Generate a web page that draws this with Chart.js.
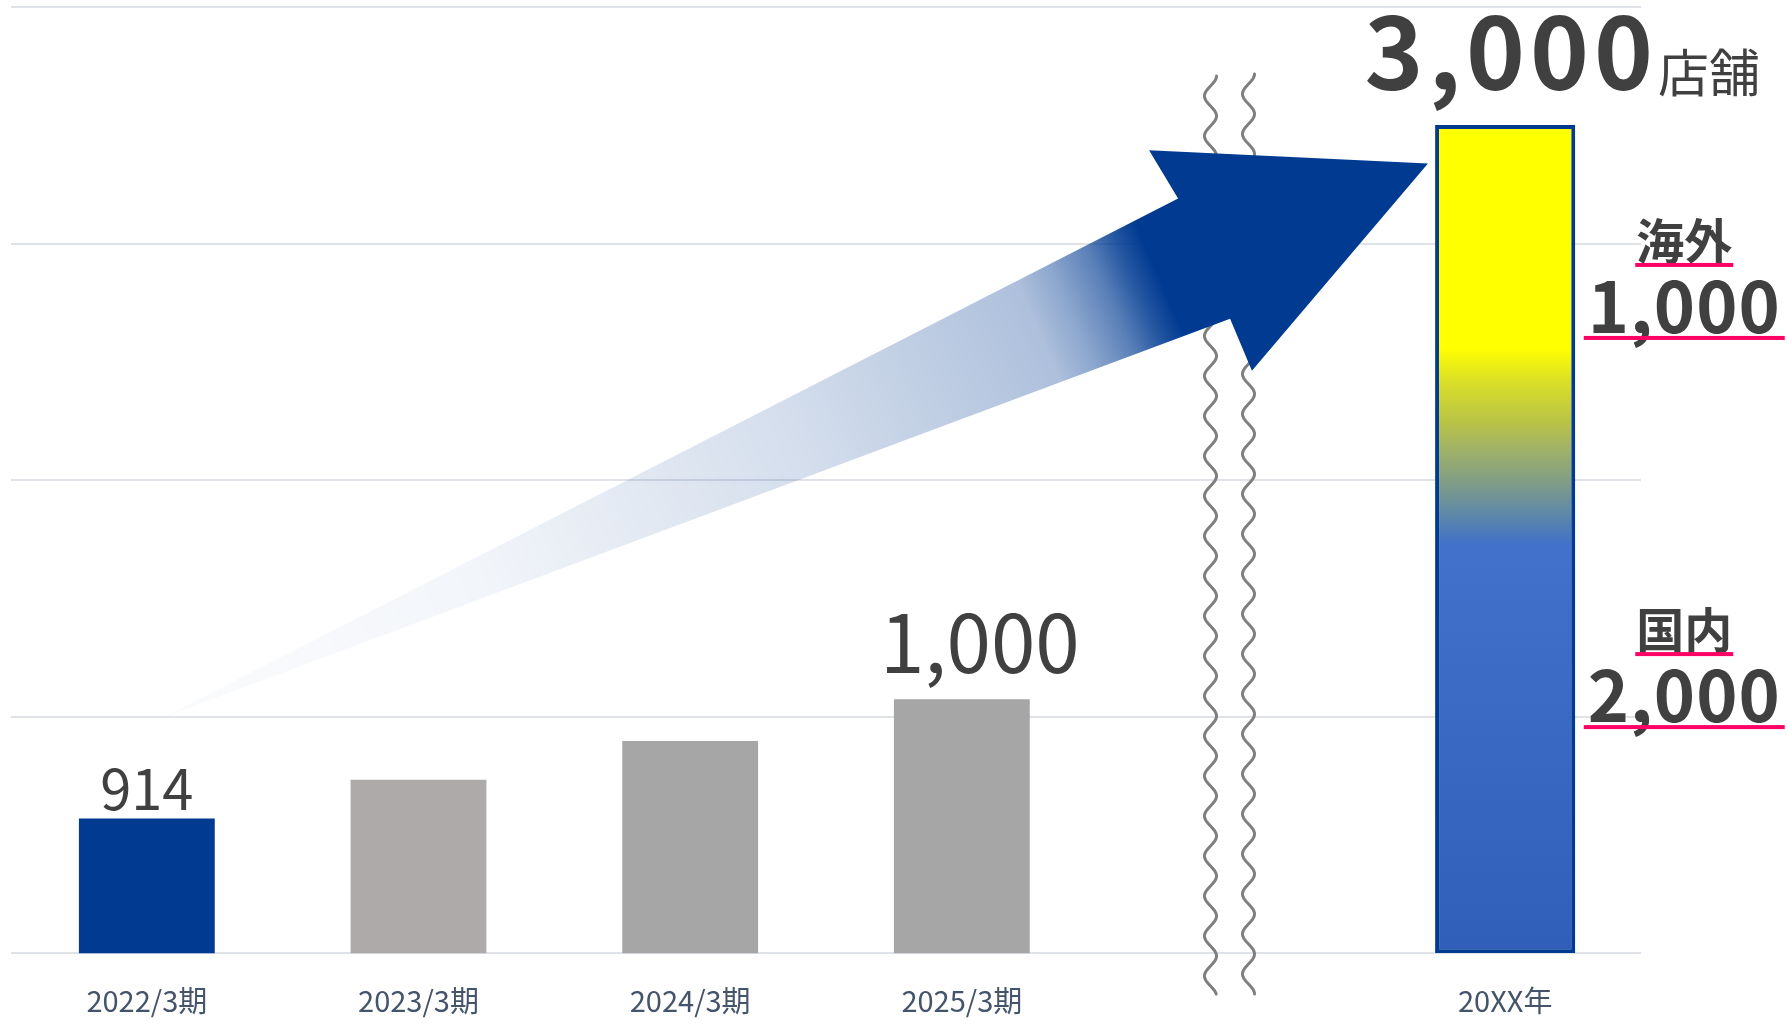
<!DOCTYPE html>
<html lang="ja">
<head>
<meta charset="utf-8">
<title>店舗数の推移と目標</title>
<script src="https://cdn.jsdelivr.net/npm/chart.js@4.4.1/dist/chart.umd.min.js"></script>
<style>
    html, body { margin: 0; padding: 0; background: #ffffff; overflow: hidden; }
    canvas { display: block; }
</style>
</head>
<body>
<canvas id="grafico-tiendas" width="1787" height="1024"></canvas>
<script>
// カテゴリ（5番目は省略線のための空き枠）
const periodos = ['2022/3期', '2023/3期', '2024/3期', '2025/3期', '', '20XX年'];

// 実績の店舗数
const tiendasReales = [914, 942, 970, 1000, null, null];
// 数値ラベルを出す実績バー
const mostrarEtiqueta = [true, false, false, true, false, false];

// 目標（国内＋海外）
const metaNacional = [null, null, null, null, null, 2000];
const metaExterior = [null, null, null, null, null, 1000];
const nombresSegmento = ['国内', '海外'];
const unidadMeta = '店舗';

// 目標の合計
const metaTotal = metaNacional.map((v, i) => v == null ? null : v + metaExterior[i]);

const FUENTE = '"Noto Sans CJK JP", "Noto Sans", sans-serif';
const AZUL = '#003a91';
const GRIS_TEXTO = '#404040';
const ROSA = '#ff0066';

const coloresBarras = [AZUL, '#aeaaaa', '#a6a6a6', '#a6a6a6', '#a6a6a6', '#a6a6a6'];

// 実績バーのラベル位置（サイズ・ずらし量）
const estiloEtiquetas = [
    { size: 56, dx: 0, dy: 9 },
    null, null,
    { size: 80, dx: 18, dy: 26 }
];

// 国内・海外ラベルの上下位置の補正
const ajusteSegmento = [-25, 0];

function formatear(n) {
    return n.toLocaleString('en-US');
}

// 目標バーのグラデーション（黄→青）
function degradadoMeta(context) {
    const chart = context.chart;
    if (!chart.chartArea) return '#ffff00';
    const y2 = chart.scales.y2;
    const i = context.dataIndex;
    if (metaTotal[i] == null) return '#ffff00';
    const top = y2.getPixelForValue(metaTotal[i]);
    const bottom = y2.getPixelForValue(0);
    const g = chart.ctx.createLinearGradient(0, top, 0, bottom);
    g.addColorStop(0, '#ffff00');
    g.addColorStop(0.27, '#ffff00');
    g.addColorStop(0.31, '#dadf28');
    g.addColorStop(0.36, '#b8c346');
    g.addColorStop(0.39, '#a2b266');
    g.addColorStop(0.43, '#819e84');
    g.addColorStop(0.47, '#5e88a8');
    g.addColorStop(0.506, '#4171ca');
    g.addColorStop(1, '#2f5fb8');
    return g;
}

// 省略の波線
function dibujarOndas(ctx, x, top, bottom) {
    ctx.save();
    ctx.strokeStyle = '#7f7f7f';
    ctx.lineWidth = 3;
    ctx.lineCap = 'round';
    ctx.beginPath();
    for (let y = top; y <= bottom; y += 1) {
        const px = x + 6 * Math.cos(2 * Math.PI * (y - top) / 40);
        if (y === top) ctx.moveTo(px, y); else ctx.lineTo(px, y);
    }
    ctx.stroke();
    ctx.restore();
}

// 成長を示す矢印（chartArea に対する比率）
const formaFlecha = [
    [0.0933, 0.751],
    [0.716, 0.2023],
    [0.6982, 0.1515],
    [0.8693, 0.1653],
    [0.7613, 0.3845],
    [0.7479, 0.3294]
];

function dibujarFlecha(ctx, area) {
    const pts = formaFlecha.map(([u, v]) => [area.left + u * area.width, area.top + v * area.height]);
    const cola = pts[0];
    const punta = pts[3];
    const g = ctx.createLinearGradient(cola[0], cola[1], punta[0], punta[1]);
    const paradas = [
        [0, 0.02], [0.12, 0.03], [0.25, 0.05], [0.5, 0.17], [0.634, 0.27], [0.693, 0.32],
        [0.72, 0.45], [0.75, 0.65], [0.77, 0.85], [0.789, 1], [1, 1]
    ];
    paradas.forEach(([t, a]) => g.addColorStop(t, `rgba(0, 58, 145, ${a})`));
    ctx.save();
    ctx.fillStyle = g;
    ctx.beginPath();
    pts.forEach((p, i) => i === 0 ? ctx.moveTo(p[0], p[1]) : ctx.lineTo(p[0], p[1]));
    ctx.closePath();
    ctx.fill();
    ctx.restore();
}

function texto(ctx, str, x, y, size, weight, align, espacio) {
    ctx.font = `${weight} ${size}px ${FUENTE}`;
    ctx.letterSpacing = (espacio || 0) + 'px';
    ctx.textAlign = align;
    ctx.textBaseline = 'alphabetic';
    ctx.fillText(str, x, y);
    const w = ctx.measureText(str).width;
    ctx.letterSpacing = '0px';
    return w;
}

function subrayar(ctx, cx, y, ancho) {
    ctx.save();
    ctx.fillStyle = ROSA;
    ctx.fillRect(cx - ancho / 2, y, ancho, 4);
    ctx.restore();
}

const pluginDecoracion = {
    id: 'decoracion',
    afterDatasetsDraw(chart) {
        const ctx = chart.ctx;
        const area = chart.chartArea;
        const xScale = chart.scales.x;
        const y2 = chart.scales.y2;

        // 波線（空き枠の位置）
        const xHueco = xScale.getPixelForValue(4) - 4;
        dibujarOndas(ctx, xHueco - 19, area.top + 69, area.bottom + 41);
        dibujarOndas(ctx, xHueco + 19, area.top + 67, area.bottom + 41);

        dibujarFlecha(ctx, area);

        ctx.save();
        ctx.fillStyle = GRIS_TEXTO;

        // 実績バーの数値
        const metaReal = chart.getDatasetMeta(0);
        tiendasReales.forEach((v, i) => {
            if (v == null || !mostrarEtiqueta[i]) return;
            const bar = metaReal.data[i];
            const est = estiloEtiquetas[i];
            texto(ctx, formatear(v), bar.x + est.dx, bar.y - est.dy, est.size, 'normal', 'center');
        });

        // 目標バー
        const metaObj = chart.getDatasetMeta(1);
        metaTotal.forEach((total, i) => {
            if (total == null) return;
            const bar = metaObj.data[i];
            const derecha = bar.x + bar.width / 2;

            // 合計「3,000店舗」
            ctx.font = `bold 100px ${FUENTE}`;
            ctx.letterSpacing = '5px';
            const wNum = ctx.measureText(formatear(total)).width;
            ctx.letterSpacing = '0px';
            ctx.font = `normal 51px ${FUENTE}`;
            const wUni = ctx.measureText(unidadMeta).width;
            const inicio = bar.x + 57 - (wNum + wUni) / 2;
            texto(ctx, formatear(total), inicio, bar.y - 35, 100, 'bold', 'left', 5);
            texto(ctx, unidadMeta, inicio + wNum, bar.y - 33, 51, 'normal', 'left');

            // 国内・海外
            const cx = derecha + 109;
            const segmentos = [
                { valor: metaNacional[i], desde: 0, hasta: metaNacional[i] },
                { valor: metaExterior[i], desde: metaNacional[i], hasta: total }
            ];
            segmentos.forEach((s, k) => {
                const medio = (y2.getPixelForValue(s.desde) + y2.getPixelForValue(s.hasta)) / 2;
                const ancla = medio + ajusteSegmento[k];
                const wNombre = texto(ctx, nombresSegmento[k], cx, ancla - 4, 48, 'bold', 'center');
                subrayar(ctx, cx, ancla, wNombre + 2);
                const wValor = texto(ctx, formatear(s.valor), cx, ancla + 70, 70, 'bold', 'center', 1);
                subrayar(ctx, cx, ancla + 73, wValor + 8);
            });
        });
        ctx.restore();
    }
};

new Chart(document.getElementById('grafico-tiendas'), {
    type: 'bar',
    data: {
        labels: periodos,
        datasets: [
            {
                label: '店舗数',
                data: tiendasReales,
                backgroundColor: coloresBarras,
                yAxisID: 'y',
                grouped: false,
                categoryPercentage: 1,
                barPercentage: 0.5
            },
            {
                label: '目標',
                data: metaTotal,
                backgroundColor: degradadoMeta,
                borderColor: AZUL,
                borderWidth: 4,
                borderSkipped: false,
                yAxisID: 'y2',
                grouped: false,
                categoryPercentage: 1,
                barPercentage: 0.516
            }
        ]
    },
    options: {
        responsive: false,
        animation: false,
        layout: { padding: { left: 11, top: 7, right: 146, bottom: -16 } },
        plugins: {
            legend: { display: false },
            tooltip: { enabled: false }
        },
        scales: {
            x: {
                grid: { display: false },
                border: { display: false },
                ticks: {
                    color: '#44546a',
                    font: { family: FUENTE, size: 29 },
                    padding: 22,
                    maxRotation: 0,
                    autoSkip: false
                }
            },
            y: {
                min: 817,
                max: 1499,
                ticks: { display: false, stepSize: 170.5 },
                grid: { color: '#dfe3e8', lineWidth: 2, drawTicks: false },
                border: { display: false }
            },
            y2: {
                display: false,
                min: 0,
                max: 3427
            }
        }
    },
    plugins: [pluginDecoracion]
});
</script>
</body>
</html>
